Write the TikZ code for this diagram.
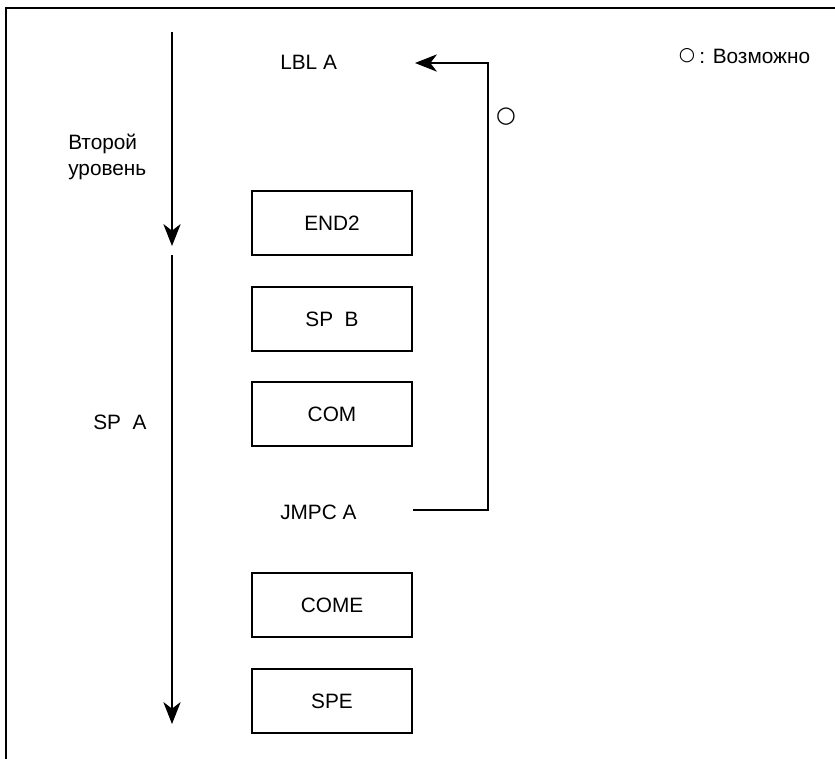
\documentclass[tikz,border=0pt]{standalone}
\usepackage{fontspec}
\setmainfont{Liberation Sans}
\newfontfamily\symfont{DejaVu Sans}
\usetikzlibrary{arrows.meta}
\begin{document}
\begin{tikzpicture}[x=0.75pt,y=-0.75pt,
  txt/.style={inner sep=0pt,font=\fontsize{15.6}{19.5}\selectfont},
  stmt/.style={draw,line width=0.9pt,minimum width=120pt,minimum height=48pt,inner sep=0pt,font=\fontsize{15.6}{19.5}\selectfont},
  flow/.style={line width=0.8pt,-{Stealth[length=16.5pt,width=13pt,inset=5pt]}},
  link/.style={line width=0.8pt}]
\useasboundingbox (0,0) rectangle (835,758);
% frame
\draw[line width=2pt] (6,762) -- (6,8) -- (840,8);
% level arrows
\coordinate (a1s) at (172,32);
\coordinate (a1e) at (172,246);
\coordinate (a2s) at (172,255);
\coordinate (a2e) at (172,724);
\draw[flow] (a1s) -- (a1e);
\draw[flow] (a2s) -- (a2e);
% labels
\node[txt,anchor=west,align=left] (lvl) at (68,157) {Второй\\уровень};
\node[txt,anchor=west] (spa) at (93,422) {SP\ \ A};
\node[txt,anchor=west] (lbl) at (280,62) {LBL A};
\node[txt,anchor=west] (jmp) at (280,512) {JMPC A};
% boxes
\node[stmt] (end2) at (332,223) {END2};
\node[stmt] (spb) at (332,319) {SP\ \ B};
\node[stmt] (com) at (332,414) {COM};
\node[stmt] (come) at (332,605) {COME};
\node[stmt] (spe) at (332,701) {SPE};
% jump connector
\coordinate (js) at (413,510);
\coordinate (jc1) at (488,510);
\coordinate (jc2) at (488,63);
\coordinate (jt) at (415,63);
\draw[link,-{Stealth[length=16.5pt,width=13pt,inset=5pt]}] (js) -- (jc1) -- (jc2) -- (jt);
\node[inner sep=0pt,font=\symfont\fontsize{17}{18}\selectfont] (poss) at (506,117) {○};
% legend
\node[inner sep=0pt,font=\symfont\fontsize{14}{16}\selectfont] (lgc) at (687,56) {○};
\node[txt,anchor=west] (lgt) at (699,56) {: Возможно};
\end{tikzpicture}
\end{document}
